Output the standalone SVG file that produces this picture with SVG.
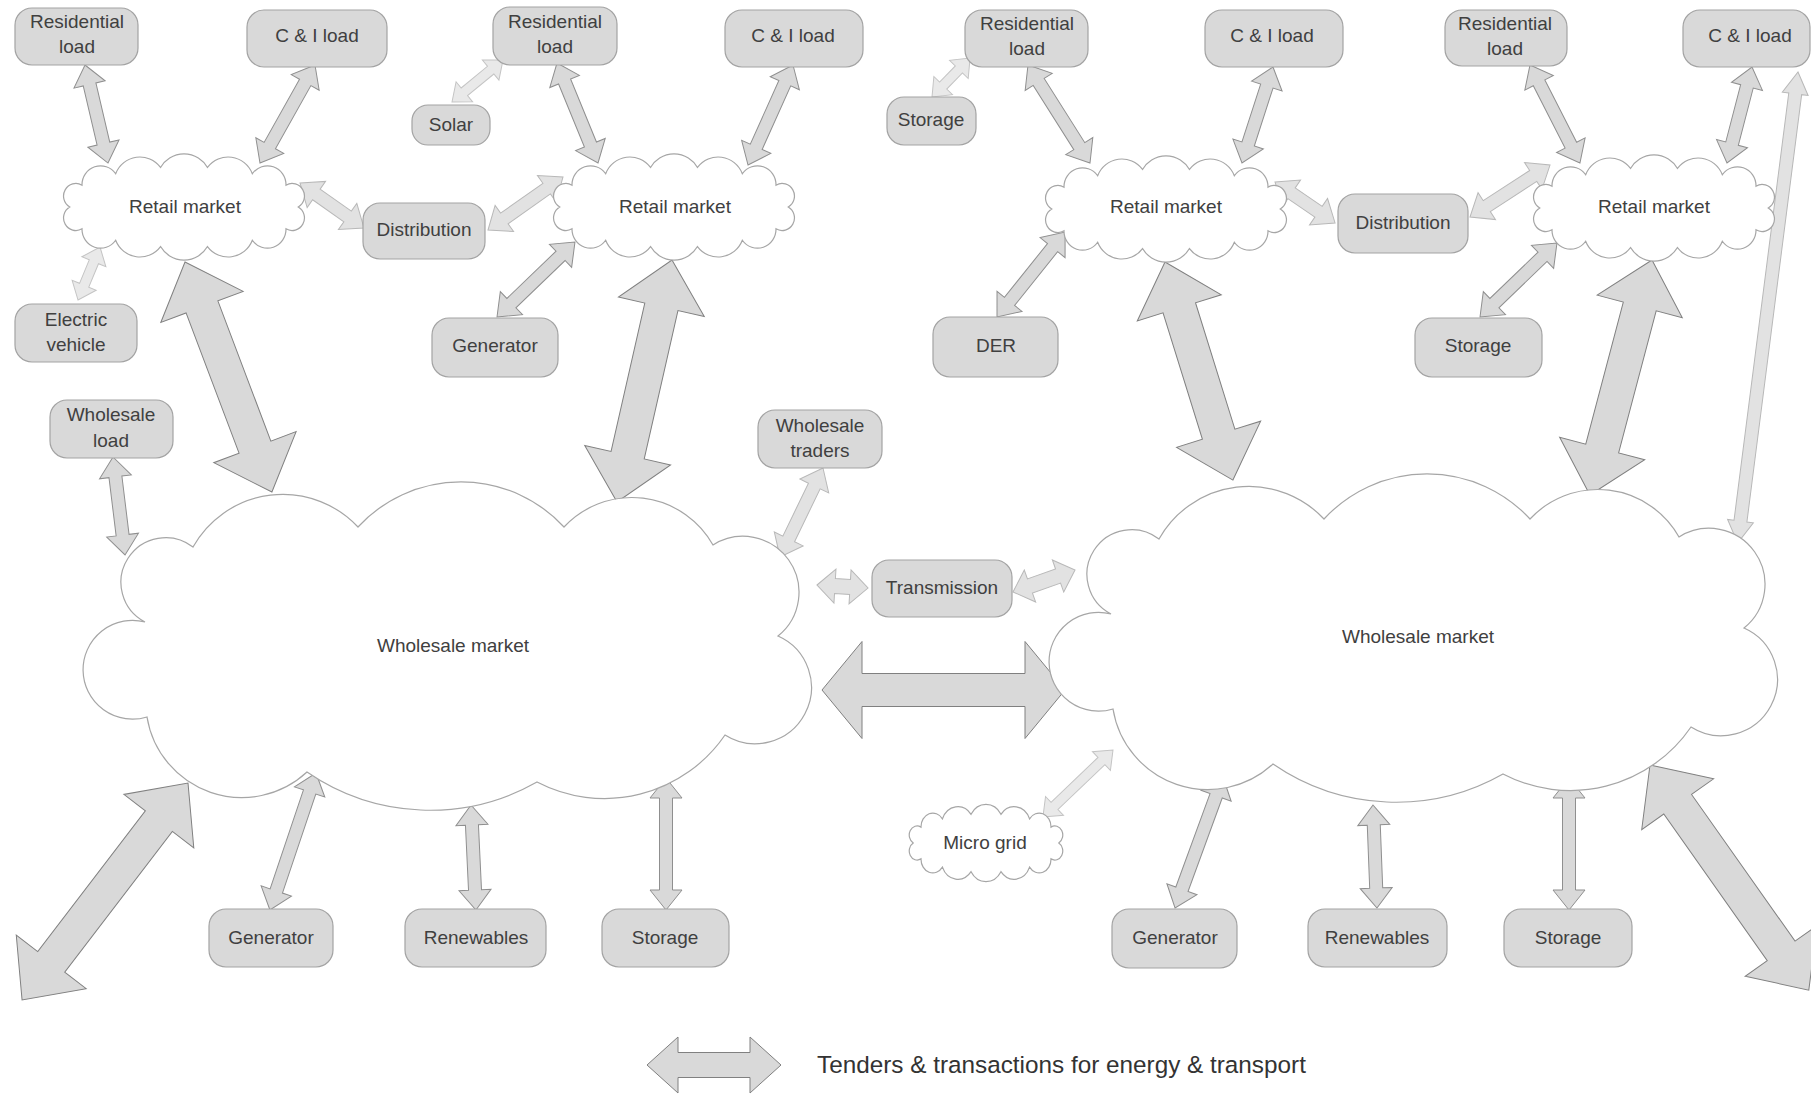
<svg xmlns="http://www.w3.org/2000/svg" xmlns:xlink="http://www.w3.org/1999/xlink" width="1811" height="1094" viewBox="0 0 1811 1094">
<style>
.box{fill:#d9d9d9;stroke:#a3a3a3;stroke-width:1.2}
.cl{fill:#ffffff;stroke:#a6a6a6;stroke-width:1.2}
.t{font-family:"Liberation Sans",Arial,sans-serif;font-size:19px;fill:#404040;text-anchor:middle}
.lg{font-family:"Liberation Sans",Arial,sans-serif;font-size:24.3px;fill:#333333}
.am{fill:#d9d9d9;stroke:#8f8f8f;stroke-width:1}
.al{fill:#e9e9e9;stroke:#c4c4c4;stroke-width:1}
.at{fill:#e2e2e2;stroke:#b8b8b8;stroke-width:1}
.ab{fill:#d9d9d9;stroke:#808080;stroke-width:1}
</style>
<defs>
<path id="cloudS" class="cl" vector-effect="non-scaling-stroke" d="M-112,0A12,12 0 0 1 -100,-21A18.2,18.2 0 0 1 -67,-32A25.5,25.5 0 0 1 -23,-38A26.8,26.8 0 0 1 23,-38A25.5,25.5 0 0 1 67,-32A18.2,18.2 0 0 1 100,-21A12,12 0 0 1 112,0A12,12 0 0 1 100,21A18.2,18.2 0 0 1 67,32A25.5,25.5 0 0 1 23,38A26.8,26.8 0 0 1 -23,38A25.5,25.5 0 0 1 -67,32A18.2,18.2 0 0 1 -100,21A12,12 0 0 1 -112,0Z"/>
<path id="cloudL" class="cl" d="M145,622A44.7,44.7 0 1 1 193,547A103,103 0 0 1 358,527A140,140 0 0 1 564,527A93,93 0 0 1 713,545A56,56 0 0 1 778,636A56.3,56.3 0 1 1 725,735A146,146 0 0 1 537,782A217,217 0 0 1 307,772A96,96 0 0 1 147,717A49.4,49.4 0 1 1 145,622Z"/>
</defs>
<rect width="1811" height="1094" fill="#ffffff"/>

<g id="connectors">
<path class="am" transform="translate(85,65) rotate(76.8)" d="M0,0L20,-16L20,-6.5L80.7,-6.5L80.7,-16L100.7,0L80.7,16L80.7,6.5L20,6.5L20,16Z"/>
<path class="am" transform="translate(315,65) rotate(119.3)" d="M0,0L20,-16L20,-6.5L92.4,-6.5L92.4,-16L112.4,0L92.4,16L92.4,6.5L20,6.5L20,16Z"/>
<path class="at" transform="translate(300,183) rotate(35.1)" d="M0,0L20,-16L20,-6.5L58.2,-6.5L58.2,-16L78.2,0L58.2,16L58.2,6.5L20,6.5L20,16Z"/>
<path class="al" transform="translate(100,247) rotate(112.5)" d="M0,0L16,-13L16,-5L41.4,-5L41.4,-13L57.4,0L41.4,13L41.4,5L16,5L16,13Z"/>
<path class="ab" transform="translate(185,262) rotate(69.3)" d="M0,0L48,-44L48,-17L197.9,-17L197.9,-44L245.9,0L197.9,44L197.9,17L48,17L48,44Z"/>
<path class="at" transform="translate(488,230) rotate(-35.2)" d="M0,0L20,-16L20,-6.5L71.8,-6.5L71.8,-16L91.8,0L71.8,16L71.8,6.5L20,6.5L20,16Z"/>
<path class="al" transform="translate(452,102) rotate(-39.5)" d="M0,0L16,-13L16,-5L50.1,-5L50.1,-13L66.1,0L50.1,13L50.1,5L16,5L16,13Z"/>
<path class="am" transform="translate(557,63) rotate(67.7)" d="M0,0L20,-16L20,-6.5L88.1,-6.5L88.1,-16L108.1,0L88.1,16L88.1,6.5L20,6.5L20,16Z"/>
<path class="am" transform="translate(793,65) rotate(114.2)" d="M0,0L20,-16L20,-6.5L89.7,-6.5L89.7,-16L109.7,0L89.7,16L89.7,6.5L20,6.5L20,16Z"/>
<path class="am" transform="translate(497,317) rotate(-43.9)" d="M0,0L20,-16L20,-6.5L88.2,-6.5L88.2,-16L108.2,0L88.2,16L88.2,6.5L20,6.5L20,16Z"/>
<path class="ab" transform="translate(672,260) rotate(102.8)" d="M0,0L48,-44L48,-17L200.2,-17L200.2,-44L248.2,0L200.2,44L200.2,17L48,17L48,44Z"/>
<path class="am" transform="translate(113,457) rotate(83)" d="M0,0L20,-16L20,-6.5L78.7,-6.5L78.7,-16L98.7,0L78.7,16L78.7,6.5L20,6.5L20,16Z"/>
<path class="at" transform="translate(823,468) rotate(115.8)" d="M0,0L20,-16L20,-6.5L78.8,-6.5L78.8,-16L98.8,0L78.8,16L78.8,6.5L20,6.5L20,16Z"/>
<path class="at" transform="translate(817,585) rotate(3.4)" d="M0,0L18,-17L18,-7.5L33.1,-7.5L33.1,-17L51.1,0L33.1,17L33.1,7.5L18,7.5L18,17Z"/>
<path class="at" transform="translate(1013,592) rotate(-19.5)" d="M0,0L18,-17L18,-7.5L47.8,-7.5L47.8,-17L65.8,0L47.8,17L47.8,7.5L18,7.5L18,17Z"/>
<path class="ab" transform="translate(822,690)" d="M0,0L40,-48.5L40,-16.5L203,-16.5L203,-48.5L243,0L203,48.5L203,16.5L40,16.5L40,48.5Z"/>
<path class="ab" transform="translate(188,783) rotate(127.4)" d="M0,0L48,-44L48,-17L225.2,-17L225.2,-44L273.2,0L225.2,44L225.2,17L48,17L48,44Z"/>
<path class="am" transform="translate(316,773) rotate(108.6)" d="M0,0L20,-16L20,-6.5L124.5,-6.5L124.5,-16L144.5,0L124.5,16L124.5,6.5L20,6.5L20,16Z"/>
<path class="am" transform="translate(471,805) rotate(87.3)" d="M0,0L20,-16L20,-6.5L85.1,-6.5L85.1,-16L105.1,0L85.1,16L85.1,6.5L20,6.5L20,16Z"/>
<path class="am" transform="translate(666,778) rotate(90)" d="M0,0L20,-16L20,-6.5L112,-6.5L112,-16L132,0L112,16L112,6.5L20,6.5L20,16Z"/>
<path class="al" transform="translate(932,97) rotate(-45.7)" d="M0,0L16,-13L16,-5L38.5,-5L38.5,-13L54.5,0L38.5,13L38.5,5L16,5L16,13Z"/>
<path class="am" transform="translate(1028,65) rotate(57.7)" d="M0,0L20,-16L20,-6.5L96,-6.5L96,-16L116,0L96,16L96,6.5L20,6.5L20,16Z"/>
<path class="am" transform="translate(1273,67) rotate(107.9)" d="M0,0L20,-16L20,-6.5L80.9,-6.5L80.9,-16L100.9,0L80.9,16L80.9,6.5L20,6.5L20,16Z"/>
<path class="at" transform="translate(1275,182) rotate(34.3)" d="M0,0L20,-16L20,-6.5L52.7,-6.5L52.7,-16L72.7,0L52.7,16L52.7,6.5L20,6.5L20,16Z"/>
<path class="am" transform="translate(997,317) rotate(-51.3)" d="M0,0L20,-16L20,-6.5L88.9,-6.5L88.9,-16L108.9,0L88.9,16L88.9,6.5L20,6.5L20,16Z"/>
<path class="ab" transform="translate(1165,262) rotate(72.7)" d="M0,0L48,-44L48,-17L180.4,-17L180.4,-44L228.4,0L180.4,44L180.4,17L48,17L48,44Z"/>
<path class="at" transform="translate(1470,217) rotate(-33)" d="M0,0L20,-16L20,-6.5L75.4,-6.5L75.4,-16L95.4,0L75.4,16L75.4,6.5L20,6.5L20,16Z"/>
<path class="am" transform="translate(1530,65) rotate(63)" d="M0,0L20,-16L20,-6.5L90,-6.5L90,-16L110,0L90,16L90,6.5L20,6.5L20,16Z"/>
<path class="am" transform="translate(1752,67) rotate(104.6)" d="M0,0L20,-16L20,-6.5L79.2,-6.5L79.2,-16L99.2,0L79.2,16L79.2,6.5L20,6.5L20,16Z"/>
<path class="am" transform="translate(1480,317) rotate(-43.9)" d="M0,0L20,-16L20,-6.5L86.8,-6.5L86.8,-16L106.8,0L86.8,16L86.8,6.5L20,6.5L20,16Z"/>
<path class="ab" transform="translate(1652,260) rotate(104.8)" d="M0,0L48,-44L48,-17L195,-17L195,-44L243,0L195,44L195,17L48,17L48,44Z"/>
<path class="at" transform="translate(1798,72) rotate(97.3)" d="M0,0L22,-13L22,-6.5L452.8,-6.5L452.8,-13L474.8,0L452.8,13L452.8,6.5L22,6.5L22,13Z"/>
<path class="al" transform="translate(1113,750) rotate(136.3)" d="M0,0L16,-13L16,-5L80.9,-5L80.9,-13L96.9,0L80.9,13L80.9,5L16,5L16,13Z"/>
<path class="am" transform="translate(1223,777) rotate(110.1)" d="M0,0L20,-16L20,-6.5L119.5,-6.5L119.5,-16L139.5,0L119.5,16L119.5,6.5L20,6.5L20,16Z"/>
<path class="am" transform="translate(1373,805) rotate(87.8)" d="M0,0L20,-16L20,-6.5L83.1,-6.5L83.1,-16L103.1,0L83.1,16L83.1,6.5L20,6.5L20,16Z"/>
<path class="am" transform="translate(1569,778) rotate(90)" d="M0,0L20,-16L20,-6.5L112,-6.5L112,-16L132,0L112,16L112,6.5L20,6.5L20,16Z"/>
<path class="ab" transform="translate(1650,765) rotate(54.8)" d="M0,0L48,-44L48,-17L227.5,-17L227.5,-44L275.5,0L227.5,44L227.5,17L48,17L48,44Z"/>
</g>

<g id="wholesale-market-1"><use xlink:href="#cloudL"/><text class="t" x="453" y="652">Wholesale market</text></g>
<g id="wholesale-market-2"><use xlink:href="#cloudL" transform="translate(966,-8)"/><text class="t" x="1418" y="643">Wholesale market</text></g>
<g id="retail-market-1"><use xlink:href="#cloudS" transform="translate(184,207) scale(1.02,1.04)"/><text class="t" x="185" y="213">Retail market</text></g>
<g id="retail-market-2"><use xlink:href="#cloudS" transform="translate(674,207) scale(1.02,1.04)"/><text class="t" x="675" y="213">Retail market</text></g>
<g id="retail-market-3"><use xlink:href="#cloudS" transform="translate(1166,209) scale(1.02,1.04)"/><text class="t" x="1166" y="213">Retail market</text></g>
<g id="retail-market-4"><use xlink:href="#cloudS" transform="translate(1654,208) scale(1.02,1.04)"/><text class="t" x="1654" y="213">Retail market</text></g>
<g id="micro-grid"><use xlink:href="#cloudS" transform="translate(986,843) scale(0.65,0.755)"/><text class="t" x="985" y="849">Micro grid</text></g>

<g id="residential-load-1"><rect class="box" x="15" y="8" width="123" height="57" rx="17"/><text class="t" x="77" y="28">Residential</text><text class="t" x="77" y="53">load</text></g>
<g id="ci-load-1"><rect class="box" x="247" y="10" width="140" height="57" rx="17"/><text class="t" x="317" y="42">C &amp; I load</text></g>
<g id="distribution-1"><rect class="box" x="363" y="203" width="122" height="56" rx="17"/><text class="t" x="424" y="236">Distribution</text></g>
<g id="electric-vehicle"><rect class="box" x="15" y="304" width="122" height="58" rx="17"/><text class="t" x="76" y="326">Electric</text><text class="t" x="76" y="351">vehicle</text></g>
<g id="solar"><rect class="box" x="412" y="105" width="78" height="40" rx="16"/><text class="t" x="451" y="131">Solar</text></g>
<g id="residential-load-2"><rect class="box" x="493" y="7" width="124" height="58" rx="17"/><text class="t" x="555" y="28">Residential</text><text class="t" x="555" y="53">load</text></g>
<g id="ci-load-2"><rect class="box" x="725" y="10" width="138" height="57" rx="17"/><text class="t" x="793" y="42">C &amp; I load</text></g>
<g id="generator-top"><rect class="box" x="432" y="318" width="126" height="59" rx="17"/><text class="t" x="495" y="352">Generator</text></g>
<g id="wholesale-load"><rect class="box" x="50" y="400" width="123" height="58" rx="17"/><text class="t" x="111" y="421">Wholesale</text><text class="t" x="111" y="447">load</text></g>
<g id="wholesale-traders"><rect class="box" x="758" y="410" width="124" height="58" rx="17"/><text class="t" x="820" y="432">Wholesale</text><text class="t" x="820" y="457">traders</text></g>
<g id="transmission"><rect class="box" x="872" y="560" width="140" height="57" rx="17"/><text class="t" x="942" y="594">Transmission</text></g>
<g id="generator-1"><rect class="box" x="209" y="909" width="124" height="58" rx="17"/><text class="t" x="271" y="944">Generator</text></g>
<g id="renewables-1"><rect class="box" x="405" y="909" width="141" height="58" rx="17"/><text class="t" x="476" y="944">Renewables</text></g>
<g id="storage-1"><rect class="box" x="602" y="909" width="127" height="58" rx="17"/><text class="t" x="665" y="944">Storage</text></g>
<g id="generator-2"><rect class="box" x="1112" y="909" width="125" height="59" rx="17"/><text class="t" x="1175" y="944">Generator</text></g>
<g id="renewables-2"><rect class="box" x="1308" y="909" width="139" height="58" rx="17"/><text class="t" x="1377" y="944">Renewables</text></g>
<g id="storage-2"><rect class="box" x="1504" y="909" width="128" height="58" rx="17"/><text class="t" x="1568" y="944">Storage</text></g>
<g id="storage-top"><rect class="box" x="887" y="97" width="89" height="48" rx="17"/><text class="t" x="931" y="126">Storage</text></g>
<g id="residential-load-3"><rect class="box" x="965" y="10" width="123" height="57" rx="17"/><text class="t" x="1027" y="30">Residential</text><text class="t" x="1027" y="55">load</text></g>
<g id="ci-load-3"><rect class="box" x="1205" y="10" width="138" height="57" rx="17"/><text class="t" x="1272" y="42">C &amp; I load</text></g>
<g id="der"><rect class="box" x="933" y="317" width="125" height="60" rx="17"/><text class="t" x="996" y="352">DER</text></g>
<g id="distribution-2"><rect class="box" x="1338" y="194" width="130" height="59" rx="17"/><text class="t" x="1403" y="229">Distribution</text></g>
<g id="residential-load-4"><rect class="box" x="1445" y="10" width="122" height="56" rx="17"/><text class="t" x="1505" y="30">Residential</text><text class="t" x="1505" y="55">load</text></g>
<g id="ci-load-4"><rect class="box" x="1683" y="10" width="127" height="57" rx="17"/><text class="t" x="1750" y="42">C &amp; I load</text></g>
<g id="storage-3"><rect class="box" x="1415" y="318" width="127" height="59" rx="17"/><text class="t" x="1478" y="352">Storage</text></g>

<g id="legend">
<path class="ab" d="M647,1065L678,1037L678,1052.5L750,1052.5L750,1037L781,1065L750,1093L750,1077.5L678,1077.5L678,1093Z"/>
<text class="lg" x="817" y="1073">Tenders &amp; transactions for energy &amp; transport</text>
</g>
</svg>
